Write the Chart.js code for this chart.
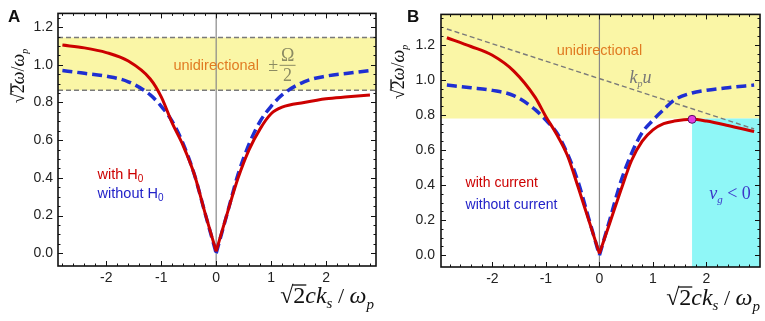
<!DOCTYPE html>
<html>
<head>
<meta charset="utf-8">
<script src="https://cdn.jsdelivr.net/npm/chart.js@4"></script>
<style>
  body { margin: 0; background: #fff; }
  #wrap { position: relative; width: 765px; height: 321px; }
  #panelA { position: absolute; left: 0; top: 0; }
  #panelB { position: absolute; left: 380px; top: 0; }
</style>
</head>
<body>
<div id="wrap">
  <canvas id="panelA" width="380" height="321"></canvas>
  <canvas id="panelB" width="385" height="321"></canvas>
</div>
<script>
// ---- data ----
const xTicks = [-2, -1, 0, 1, 2];
const yTicks = [0, 0.2, 0.4, 0.6, 0.8, 1.0, 1.2];

// panel A
const kA = [-2.8, -2.4, -2.0, -1.6, -1.2, -1.0, -0.8, -0.6, -0.4, -0.2, 0, 0.2, 0.4, 0.6, 0.8, 1.0, 1.2, 1.6, 2.0, 2.4, 2.8];
const withH0 = [1.105, 1.09, 1.065, 1.02, 0.925, 0.83, 0.69, 0.57, 0.42, 0.21, 0.01, 0.21, 0.40, 0.55, 0.66, 0.74, 0.775, 0.80, 0.82, 0.83, 0.84];
const withoutH0 = [0.97, 0.955, 0.94, 0.91, 0.84, 0.78, 0.70, 0.58, 0.42, 0.21, 0.0, 0.21, 0.42, 0.58, 0.70, 0.78, 0.84, 0.91, 0.94, 0.955, 0.97];
const bandA = [0.865, 1.145];

// panel B
const kB = [-2.85, -2.4, -2.0, -1.6, -1.2, -1.0, -0.8, -0.6, -0.4, -0.2, 0, 0.2, 0.4, 0.6, 0.8, 1.0, 1.2, 1.4, 1.73, 2.0, 2.4, 2.89];
const withCurrent = [1.24, 1.19, 1.14, 1.05, 0.90, 0.79, 0.69, 0.57, 0.39, 0.20, 0.01, 0.19, 0.37, 0.54, 0.65, 0.715, 0.75, 0.765, 0.775, 0.765, 0.74, 0.705];
const withoutCurrent = [0.97, 0.955, 0.94, 0.91, 0.83, 0.77, 0.70, 0.58, 0.42, 0.21, 0.0, 0.21, 0.42, 0.58, 0.70, 0.77, 0.83, 0.885, 0.925, 0.94, 0.955, 0.97];
const bandB = 0.78;
const cyanFrom = 1.73;
const kpuX = [-2.85, 2.89];
const kpuY = [1.29, 0.72];
const peakX = [1.73];
const peakY = [0.775];

const RED = '#cc0000';
const BLUE = '#1f2fd2';
const GREY = '#7a7a7a';

function pts(xs, ys, keep) {
  const out = [];
  xs.forEach((x, i) => { if (!keep || keep(x)) out.push({ x: x, y: ys[i] }); });
  return out;
}

// split a V-shaped curve at k=0 so the cusp stays sharp
function curve(xs, ys, color, dash, width) {
  const base = {
    showLine: true, pointRadius: 0, borderColor: color, borderWidth: width,
    borderDash: dash, cubicInterpolationMode: 'monotone', fill: false,
    borderCapStyle: 'butt'
  };
  return [
    Object.assign({ data: pts(xs, ys, x => x <= 0) }, base),
    Object.assign({ data: pts(xs, ys, x => x >= 0) }, base)
  ];
}

function runs(ctx, x, y, parts, align) {
  let w = 0;
  parts.forEach(p => { ctx.font = p.f; p.w = ctx.measureText(p.t).width; w += p.w; });
  let cx = align === 'center' ? x - w / 2 : align === 'right' ? x - w : x;
  ctx.textBaseline = 'alphabetic';
  ctx.textAlign = 'left';
  parts.forEach(p => {
    ctx.font = p.f;
    ctx.fillStyle = p.c;
    ctx.fillText(p.t, cx, y + (p.dy || 0));
    if (p.over) {
      ctx.strokeStyle = p.c;
      ctx.lineWidth = 1.3;
      ctx.beginPath();
      ctx.moveTo(cx - 1, y - p.over);
      ctx.lineTo(cx + p.w + 1, y - p.over);
      ctx.stroke();
    }
    cx += p.w;
  });
}

const SERIF = '"Liberation Serif", "DejaVu Serif", serif';
const SANS = '"Liberation Sans", Arial, sans-serif';

function xTitle(ctx, right, base) {
  runs(ctx, right, base, [
    { t: '\u221A', f: '24px ' + SERIF, c: '#111' },
    { t: '2', f: '24px ' + SERIF, c: '#111', over: 18 },
    { t: 'ck', f: 'italic 24px ' + SERIF, c: '#111' },
    { t: 's', f: 'italic 15px ' + SERIF, c: '#111', dy: 5 },
    { t: ' / ', f: '22px ' + SERIF, c: '#111' },
    { t: '\u03C9', f: 'italic 24px ' + SERIF, c: '#111' },
    { t: 'p', f: 'italic 15px ' + SERIF, c: '#111', dy: 6 }
  ], 'right');
}

function yTitle(ctx, x, y) {
  ctx.save();
  ctx.translate(x, y);
  ctx.rotate(-Math.PI / 2);
  runs(ctx, 0, 0, [
    { t: '\u221A', f: '18px ' + SERIF, c: '#111' },
    { t: '2', f: '18px ' + SERIF, c: '#111', over: 13 },
    { t: '\u03C9', f: 'italic 18px ' + SERIF, c: '#111' },
    { t: '/', f: '18px ' + SERIF, c: '#111' },
    { t: '\u03C9', f: 'italic 18px ' + SERIF, c: '#111' },
    { t: 'p', f: 'italic 10px ' + SERIF, c: '#111', dy: 4 }
  ], 'center');
  ctx.restore();
}

// frame with inward major/minor ticks on all four sides
const framePlugin = {
  id: 'frame',
  afterDatasetsDraw(chart) {
    const { ctx, chartArea: a, scales } = chart;
    const sx = scales.x, sy = scales.y;
    ctx.save();
    ctx.strokeStyle = '#111';
    ctx.lineWidth = 1;
    for (let v = -3; v <= 3.001; v += 0.2) {
      if (v < sx.min || v > sx.max) continue;
      const px = Math.round(sx.getPixelForValue(v)) + 0.5;
      const len = Math.abs(v - Math.round(v)) < 1e-6 ? 5 : 2.5;
      ctx.beginPath();
      ctx.moveTo(px, a.bottom); ctx.lineTo(px, a.bottom - len);
      ctx.moveTo(px, a.top); ctx.lineTo(px, a.top + len);
      ctx.stroke();
    }
    for (let i = 0; i <= 28; i++) {
      const v = i * 0.05;
      if (v < sy.min || v > sy.max) continue;
      const py = Math.round(sy.getPixelForValue(v)) + 0.5;
      const len = i % 4 === 0 ? 5 : 2.5;
      ctx.beginPath();
      ctx.moveTo(a.left, py); ctx.lineTo(a.left + len, py);
      ctx.moveTo(a.right, py); ctx.lineTo(a.right - len, py);
      ctx.stroke();
    }
    ctx.lineWidth = 1.6;
    ctx.strokeRect(a.left, a.top, a.right - a.left, a.bottom - a.top);
    ctx.restore();
  }
};

function scalesFor(xmin, xmax, ymin, ymax, xh, yw, ypad) {
  const tickFont = { family: SANS, size: 14 };
  return {
    x: {
      type: 'linear', min: xmin, max: xmax,
      grid: { display: false, drawTicks: false }, border: { display: false },
      afterBuildTicks: s => { s.ticks = xTicks.map(v => ({ value: v })); },
      afterFit: s => { s.height = xh; },
      ticks: { color: '#222', font: tickFont, padding: 4, maxRotation: 0, callback: v => String(v) }
    },
    y: {
      type: 'linear', min: ymin, max: ymax,
      grid: { display: false, drawTicks: false }, border: { display: false },
      afterBuildTicks: s => { s.ticks = yTicks.map(v => ({ value: v })); },
      afterFit: s => { s.width = yw; },
      ticks: { color: '#222', font: tickFont, padding: ypad, callback: v => Number(v).toFixed(1) }
    }
  };
}

const common = {
  responsive: false,
  animation: false,
  devicePixelRatio: 1,
  plugins: { legend: { display: false }, tooltip: { enabled: false } },
  layout: { padding: { top: 10, right: 4, left: 0, bottom: 0 } }
};

// ---------------- panel A ----------------
const xMinA = -2.88, xMaxA = 2.91, yMinA = -0.068, yMaxA = 1.273;
new Chart(document.getElementById('panelA'), {
  type: 'scatter',
  data: {
    datasets: [
      ...curve(kA, withH0, RED, [], 3),
      ...curve(kA, withoutH0, BLUE, [10, 5], 3.5),
      { data: [{ x: 0, y: yMinA }, { x: 0, y: yMaxA }], showLine: true, pointRadius: 0, borderColor: '#888', borderWidth: 1.2 },
      { data: [{ x: xMinA, y: bandA[1] }, { x: xMaxA, y: bandA[1] }], showLine: true, pointRadius: 0, borderColor: GREY, borderWidth: 1.3, borderDash: [5, 3], fill: false },
      { data: [{ x: xMinA, y: bandA[0] }, { x: xMaxA, y: bandA[0] }], showLine: true, pointRadius: 0, borderColor: GREY, borderWidth: 1.3, borderDash: [5, 3], fill: { value: bandA[1] }, backgroundColor: '#faf6a6' }
    ]
  },
  options: Object.assign({}, common, { scales: scalesFor(xMinA, xMaxA, yMinA, yMaxA, 55, 58, 5) }),
  plugins: [framePlugin, {
    id: 'textA',
    afterDraw(chart) {
      const { ctx, scales: { x, y } } = chart;
      runs(ctx, x.getPixelForValue(0), y.getPixelForValue(1.0) + 5, [{ t: 'unidirectional', f: '14.5px ' + SANS, c: '#e07b22' }], 'center');
      const olive = '#8b8b62';
      runs(ctx, x.getPixelForValue(0.95), y.getPixelForValue(1.0) + 6, [{ t: '\u00B1', f: '18px ' + SERIF, c: olive }], 'left');
      const cx = x.getPixelForValue(1.30), by = y.getPixelForValue(1.0);
      runs(ctx, cx, by - 4, [{ t: '\u03A9', f: '18px ' + SERIF, c: olive }], 'center');
      runs(ctx, cx, by + 16, [{ t: '2', f: '18px ' + SERIF, c: olive }], 'center');
      ctx.strokeStyle = olive; ctx.lineWidth = 1;
      ctx.beginPath(); ctx.moveTo(cx - 8, by + 0.5); ctx.lineTo(cx + 8, by + 0.5); ctx.stroke();
      runs(ctx, x.getPixelForValue(-2.16), y.getPixelForValue(0.42) + 5, [
        { t: 'with H', f: '14.5px ' + SANS, c: RED },
        { t: '0', f: '10px ' + SANS, c: RED, dy: 3 }
      ], 'left');
      runs(ctx, x.getPixelForValue(-2.16), y.getPixelForValue(0.32) + 5, [
        { t: 'without H', f: '14.5px ' + SANS, c: '#2222c8' },
        { t: '0', f: '10px ' + SANS, c: '#2222c8', dy: 3 }
      ], 'left');
      runs(ctx, 8, 22, [{ t: 'A', f: 'bold 17px ' + SANS, c: '#111' }], 'left');
      xTitle(ctx, 374, 303);
      yTitle(ctx, 24, 76);
    }
  }]
});

// ---------------- panel B ----------------
const xMinB = -2.96, xMaxB = 3.0, yMinB = -0.067, yMaxB = 1.373;
new Chart(document.getElementById('panelB'), {
  type: 'scatter',
  data: {
    datasets: [
      { data: pts(peakX, peakY), pointRadius: 4, pointBackgroundColor: '#e23ee2', pointBorderColor: '#5a1060', pointBorderWidth: 1 },
      ...curve(kB, withCurrent, RED, [], 3),
      ...curve(kB, withoutCurrent, BLUE, [10, 5], 3.5),
      { data: pts(kpuX, kpuY), showLine: true, pointRadius: 0, borderColor: GREY, borderWidth: 1.4, borderDash: [5, 3] },
      { data: [{ x: 0, y: yMinB }, { x: 0, y: yMaxB }], showLine: true, pointRadius: 0, borderColor: '#888', borderWidth: 1.2 },
      { data: [{ x: cyanFrom, y: bandB }, { x: xMaxB, y: bandB }], showLine: true, pointRadius: 0, borderWidth: 0, fill: 'start', backgroundColor: '#8ff7f7' },
      { data: [{ x: xMinB, y: bandB }, { x: xMaxB, y: bandB }], showLine: true, pointRadius: 0, borderWidth: 0, fill: 'end', backgroundColor: '#faf6a6' }
    ]
  },
  options: Object.assign({}, common, { scales: scalesFor(xMinB, xMaxB, yMinB, yMaxB, 54, 61, 6) }),
  plugins: [framePlugin, {
    id: 'textB',
    afterDraw(chart) {
      const { ctx, scales: { x, y } } = chart;
      runs(ctx, x.getPixelForValue(0), y.getPixelForValue(1.17) + 5, [{ t: 'unidirectional', f: '14.5px ' + SANS, c: '#e07b22' }], 'center');
      runs(ctx, x.getPixelForValue(0.56), y.getPixelForValue(1.01) + 5, [
        { t: 'k', f: 'italic 18px ' + SERIF, c: '#777' },
        { t: 'p', f: 'italic 10px ' + SERIF, c: '#777', dy: 4 },
        { t: 'u', f: 'italic 18px ' + SERIF, c: '#777' }
      ], 'left');
      runs(ctx, x.getPixelForValue(2.05), y.getPixelForValue(0.35) + 5, [
        { t: 'v', f: 'italic 18px ' + SERIF, c: '#3c36c8' },
        { t: 'g', f: 'italic 11px ' + SERIF, c: '#3c36c8', dy: 4 },
        { t: ' < 0', f: '18px ' + SERIF, c: '#3c36c8' }
      ], 'left');
      runs(ctx, x.getPixelForValue(-2.5), y.getPixelForValue(0.415) + 5, [{ t: 'with current', f: '14px ' + SANS, c: RED }], 'left');
      runs(ctx, x.getPixelForValue(-2.5), y.getPixelForValue(0.29) + 5, [{ t: 'without current', f: '14px ' + SANS, c: '#2222c8' }], 'left');
      runs(ctx, 27, 22, [{ t: 'B', f: 'bold 17px ' + SANS, c: '#111' }], 'left');
      xTitle(ctx, 380, 305);
      yTitle(ctx, 24, 72);
    }
  }]
});
</script>
</body>
</html>
